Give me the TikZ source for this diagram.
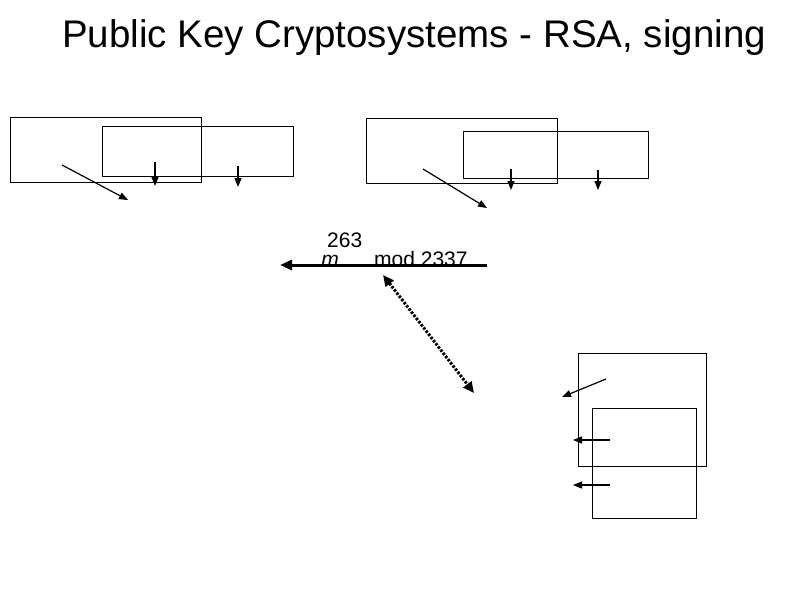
\documentclass[tikz,border=0pt]{standalone}
\usepackage{fontspec}
\setmainfont{Liberation Sans}
\usetikzlibrary{arrows.meta}
\begin{document}
\begin{tikzpicture}[x=1pt,y=-1pt,
  box/.style={draw,line width=0.8pt},
  arr/.style={-{Triangle[length=9pt,width=7pt]},line width=1.2pt},
  txt/.style={inner sep=0pt,font=\fontsize{21}{23}\selectfont}]
\useasboundingbox (0,0) rectangle (794,595);
\node[inner sep=0pt,font=\fontsize{38.5}{42}\selectfont] (title) at (414,38) {Public Key Cryptosystems - RSA, signing};
\node[box,minimum width=191pt,minimum height=65pt] (b1) at (105.5,149.5) {};
\node[box,minimum width=191pt,minimum height=50pt] (b2) at (197.5,151) {};
\node[box,minimum width=191pt,minimum height=65pt] (b3) at (461.5,150.5) {};
\node[box,minimum width=185pt,minimum height=47pt] (b4) at (555.5,154.5) {};
\node[box,minimum width=128pt,minimum height=113pt] (b5) at (642,409.5) {};
\node[box,minimum width=104pt,minimum height=110pt] (b6) at (644,463) {};
\coordinate (a1s) at (62,165); \coordinate (a1e) at (128,200);
\coordinate (a2s) at (155,162); \coordinate (a2e) at (155,186);
\coordinate (a3s) at (238,166); \coordinate (a3e) at (238,187);
\coordinate (a4s) at (423,169); \coordinate (a4e) at (487,208);
\coordinate (a5s) at (511,169); \coordinate (a5e) at (511,190);
\coordinate (a6s) at (598,170); \coordinate (a6e) at (598,190);
\coordinate (a7s) at (606,379); \coordinate (a7e) at (562,397);
\coordinate (a8s) at (610,440); \coordinate (a8e) at (573,440);
\coordinate (a9s) at (610,485); \coordinate (a9e) at (573,485);
\foreach \i in {1,...,9} \draw[arr] (a\i s) -- (a\i e);
\node[txt,anchor=base] (m) at (330,266) {\textit{m}};
\node[txt,anchor=base west] (exp) at (327,247) {263};
\node[txt,anchor=base west] (mod) at (374,266) {mod 2337};
\coordinate (hs) at (487,265); \coordinate (he) at (280,265);
\draw[-{Triangle[length=12pt,width=10pt]},line width=3pt] (hs) -- (he);
\coordinate (ds) at (383,275); \coordinate (de) at (474,393);
\draw[{Triangle[length=11pt,width=10pt]}-{Triangle[length=11pt,width=10pt]},line width=3pt,dash pattern=on 2.5pt off 1.5pt] (ds) -- (de);
\end{tikzpicture}
\end{document}
